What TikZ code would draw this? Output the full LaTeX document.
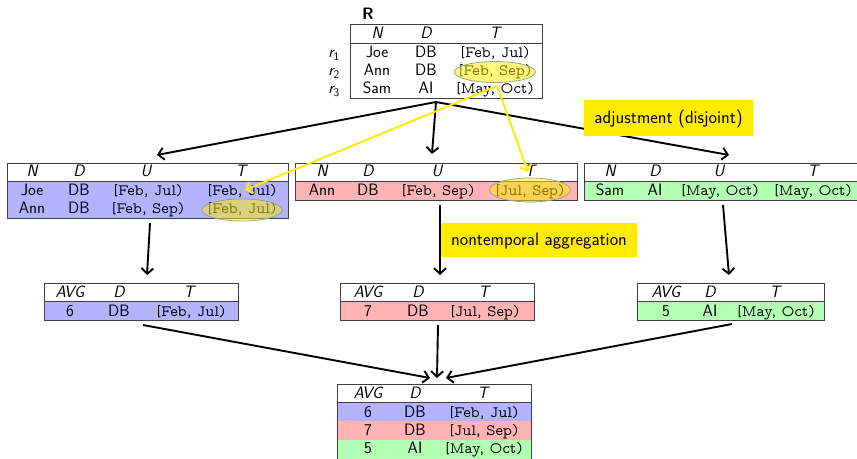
\documentclass[tikz,border=0pt]{standalone}
\usepackage{fontspec}
\newfontfamily\ivfont[Extension=.otf]{lmmonoprop10-regular}
\usetikzlibrary{arrows.meta,shapes.geometric}
\definecolor{bl}{RGB}{179,179,255}
\definecolor{rd}{RGB}{255,179,179}
\definecolor{gr}{RGB}{179,255,179}
\definecolor{yl}{RGB}{255,236,0}
\definecolor{ye}{RGB}{255,240,0}
\newcommand{\ivl}[2]{[#1, #2)}
\begin{document}
\begin{tikzpicture}[x=1pt,y=-1pt,
  txt/.style={font=\sffamily\fontsize{16.5}{18}\selectfont, inner sep=0pt, text height=11.5pt, text depth=0pt},
  hd/.style={font=\sffamily\itshape\fontsize{16.5}{18}\selectfont, inner sep=0pt, text height=11.5pt, text depth=0pt},
  iv/.style={font=\ivfont\fontsize{15.8}{18}\selectfont, inner sep=0pt, text height=10pt, text depth=0pt},
  fr/.style={draw=black!75, line width=0.9pt, inner sep=0pt, rectangle},
  rule/.style={draw=black!75, line width=0.9pt},
  ell/.style={ellipse, draw=black!40, line width=0.7pt, fill=ye, fill opacity=0.5, inner sep=0pt},
  arr/.style={line width=1.9pt, -{Straight Barb[length=5.5pt,width=12pt]}},
  yarr/.style={draw=yl, line width=1.9pt, -{Straight Barb[length=5.5pt,width=12pt]}},
  lbl/.style={fill=yl, inner sep=0pt, font=\sffamily\fontsize{18}{20}\selectfont, text height=11pt, text depth=0pt}
]
\useasboundingbox (0,0) rectangle (857,458);

% ---------- Table R ----------
\node[font=\sffamily\bfseries\fontsize{16.5}{18}\selectfont, inner sep=0pt, text height=11.5pt, text depth=0pt] (Rlab) at (368,14) {R};
\node[fr, minimum width=192, minimum height=74] (R) at (446,61) {};
\draw[rule] (350,43) -- (542,43);
\node[hd] (Rh1) at (377,33) {N};
\node[hd] (Rh2) at (426,33) {D};
\node[hd] (Rh3) at (495,33) {T};
\node[hd, anchor=east] (r1) at (340,52) {r\textsubscript{\upshape 1}};
\node[hd, anchor=east] (r2) at (340,70) {r\textsubscript{\upshape 2}};
\node[hd, anchor=east] (r3) at (340,88) {r\textsubscript{\upshape 3}};
\node[txt] (Ra1) at (377,52) {Joe};
\node[txt] (Rb1) at (426,52) {DB};
\node[iv]  (Rc1) at (495,52) {\ivl{Feb}{Jul}};
\node[txt] (Ra2) at (377,70) {Ann};
\node[txt] (Rb2) at (426,70) {DB};
\node[iv]  (Rc2) at (495,70) {\ivl{Feb}{Sep}};
\node[txt] (Ra3) at (377,88) {Sam};
\node[txt] (Rb3) at (426,88) {AI};
\node[iv]  (Rc3) at (495,88) {\ivl{May}{Oct}};
\node[ell, minimum width=81, minimum height=21] (e0) at (495,72) {};

% ---------- middle tables ----------
\fill[bl] (7,181) rectangle (288,218);
\fill[rd] (295,181) rectangle (577,200);
\fill[gr] (584,181) rectangle (866,200);
\node[fr, minimum width=281, minimum height=55] (t1) at (147.5,190.5) {};
\node[fr, minimum width=282, minimum height=37] (t2) at (436,181.5) {};
\node[fr, minimum width=282, minimum height=37] (t3) at (725,181.5) {};
\draw[rule] (7,181) -- (288,181);
\draw[rule] (295,181) -- (577,181);
\draw[rule] (584,181) -- (866,181);
% table 1
\node[hd] (h11) at (32,171) {N};
\node[hd] (h12) at (79,171) {D};
\node[hd] (h13) at (146,171) {U};
\node[hd] (h14) at (241,171) {T};
\node[txt] (a11) at (32,190) {Joe};
\node[txt] (a12) at (79,190) {DB};
\node[iv]  (a13) at (148,190) {\ivl{Feb}{Jul}};
\node[iv]  (a14) at (242,190) {\ivl{Feb}{Jul}};
\node[txt] (a21) at (32,208) {Ann};
\node[txt] (a22) at (79,208) {DB};
\node[iv]  (a23) at (148,208) {\ivl{Feb}{Sep}};
\node[iv]  (a24) at (242,208) {\ivl{Feb}{Jul}};
\node[ell, minimum width=80, minimum height=22] (e1) at (242,210) {};
% table 2
\node[hd] (h21) at (322,171) {N};
\node[hd] (h22) at (368,171) {D};
\node[hd] (h23) at (437,171) {U};
\node[hd] (h24) at (530,171) {T};
\node[txt] (b11) at (322,190) {Ann};
\node[txt] (b12) at (368,190) {DB};
\node[iv]  (b13) at (438,190) {\ivl{Feb}{Sep}};
\node[iv]  (b14) at (530,190) {\ivl{Jul}{Sep}};
\node[ell, minimum width=81, minimum height=24] (e2) at (530,190) {};
% table 3
\node[hd] (h31) at (610,171) {N};
\node[hd] (h32) at (655,171) {D};
\node[hd] (h33) at (719,171) {U};
\node[hd] (h34) at (813,171) {T};
\node[txt] (c11) at (610,190) {Sam};
\node[txt] (c12) at (655,190) {AI};
\node[iv]  (c13) at (720,190) {\ivl{May}{Oct}};
\node[iv]  (c14) at (813,190) {\ivl{May}{Oct}};

% ---------- aggregation tables ----------
\fill[bl] (44,301) rectangle (238,320);
\fill[rd] (340,301) rectangle (534,320);
\fill[gr] (637,301) rectangle (824,320);
\node[fr, minimum width=194, minimum height=37] (g1) at (141,301.5) {};
\node[fr, minimum width=194, minimum height=37] (g2) at (437,301.5) {};
\node[fr, minimum width=187, minimum height=37] (g3) at (730.5,301.5) {};
\draw[rule] (44,301) -- (238,301);
\draw[rule] (340,301) -- (534,301);
\draw[rule] (637,301) -- (824,301);
\node[hd] (gh11) at (70,292) {AVG};
\node[hd] (gh12) at (119,292) {D};
\node[hd] (gh13) at (189,292) {T};
\node[txt] (gv11) at (70,311) {6};
\node[txt] (gv12) at (119,311) {DB};
\node[iv]  (gv13) at (191,311) {\ivl{Feb}{Jul}};
\node[hd] (gh21) at (368,292) {AVG};
\node[hd] (gh22) at (418,292) {D};
\node[hd] (gh23) at (484,292) {T};
\node[txt] (gv21) at (368,311) {7};
\node[txt] (gv22) at (418,311) {DB};
\node[iv]  (gv23) at (485,311) {\ivl{Jul}{Sep}};
\node[hd] (gh31) at (666,292) {AVG};
\node[hd] (gh32) at (710,292) {D};
\node[hd] (gh33) at (775,292) {T};
\node[txt] (gv31) at (666,311) {5};
\node[txt] (gv32) at (710,311) {AI};
\node[iv]  (gv33) at (776,311) {\ivl{May}{Oct}};

% ---------- final table ----------
\fill[bl] (337,402) rectangle (531,421);
\fill[rd] (337,421) rectangle (531,440);
\fill[gr] (337,440) rectangle (531,462);
\node[fr, minimum width=194, minimum height=78] (F) at (434,423) {};
\draw[rule] (337,402) -- (531,402);
\node[hd] (fh1) at (368,393) {AVG};
\node[hd] (fh2) at (415,393) {D};
\node[hd] (fh3) at (483,393) {T};
\node[txt] (f11) at (368,412) {6};
\node[txt] (f12) at (415,412) {DB};
\node[iv]  (f13) at (484,412) {\ivl{Feb}{Jul}};
\node[txt] (f21) at (368,430) {7};
\node[txt] (f22) at (415,430) {DB};
\node[iv]  (f23) at (484,430) {\ivl{Jul}{Sep}};
\node[txt] (f31) at (368,448) {5};
\node[txt] (f32) at (415,448) {AI};
\node[iv]  (f33) at (484,448) {\ivl{May}{Oct}};

% ---------- connectors ----------
\coordinate (rs) at (436,102);
\coordinate (t1in) at (157,155);
\coordinate (t2in) at (432,154);
\coordinate (t3in) at (729,155);
\draw[arr] (rs) -- (t1in);
\draw[arr] (rs) -- (t2in);
\draw[arr] (rs) -- (t3in);
\coordinate (t1out) at (150,223);
\coordinate (t2out) at (440,205);
\coordinate (t3out) at (723,205);
\coordinate (g1in) at (147,275);
\coordinate (g2in) at (440,275);
\coordinate (g3in) at (729,275);
\draw[arr] (t1out) -- (g1in);
\draw[arr] (t2out) -- (g2in);
\draw[arr] (t3out) -- (g3in);
\coordinate (g1out) at (143,325);
\coordinate (g2out) at (438,325);
\coordinate (g3out) at (732,324);
\coordinate (fin1) at (430,378);
\coordinate (fin2) at (437,378);
\coordinate (fin3) at (446,378);
\draw[arr] (g1out) -- (fin1);
\draw[arr] (g2out) -- (fin2);
\draw[arr] (g3out) -- (fin3);

% yellow arrows
\coordinate (ys) at (497,86);
\coordinate (y1) at (245,190);
\coordinate (y2) at (528,172);
\draw[yarr] (ys) -- (y1);
\draw[yarr] (ys) -- (y2);

% labels
\node[lbl, minimum width=169, minimum height=36] (adj) at (668.5,118) {adjustment (disjoint)};
\node[lbl, minimum width=196, minimum height=34] (nta) at (539,240) {nontemporal aggregation};
\end{tikzpicture}
\end{document}
